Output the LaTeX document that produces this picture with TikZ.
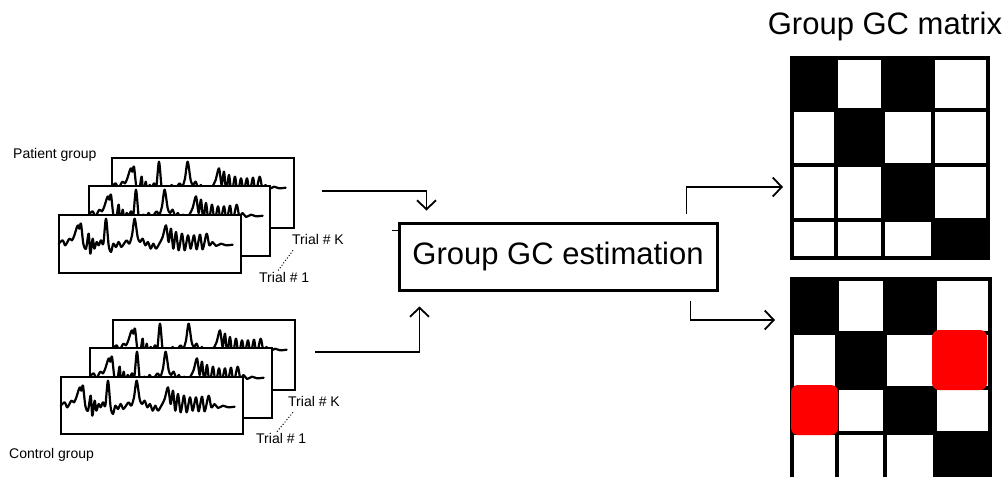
\documentclass[tikz,border=0pt]{standalone}
\usepackage{fontspec}
\setmainfont{Liberation Sans}
\usetikzlibrary{arrows.meta,calc}
\tikzset{
  trialbox/.style={draw, fill=white, line width=1.8pt, inner sep=0pt, anchor=north west},
  wavestyle/.style={line width=2.2pt, line join=round, line cap=round},
  conn/.style={line width=1.8pt, -{Straight Barb[length=9pt,width=19pt,line width=1.8pt]}},
  lbl/.style={font=\fontsize{14}{16}\selectfont, inner sep=0pt, anchor=west},
  big/.style={font=\fontsize{31}{36}\selectfont},
  gridline/.style={line width=4.5pt},
  dotline/.style={dotted, line width=1pt},
}
\newcommand{\drawwave}[1]{%
  \begin{scope}[shift={(#1)}, x=0.3333pt, y=-0.3333pt]
    \draw[wavestyle] plot[smooth, tension=0.5] coordinates {
      (2,89) (14,79) (22,94) (34,74) (42,79) (49,64) (59,34) (64,44) (69,29) (76,89)
      (84,104) (92,59) (97,119) (104,74) (109,104) (116,84) (122,94) (129,79) (136,89)
      (144,14) (152,94) (159,114) (166,89) (174,99) (182,84) (190,99) (198,89) (206,79)
      (214,89) (222,64) (230,14) (239,69) (246,84) (254,74) (262,94) (270,84) (278,104)
      (286,89) (294,104) (304,89) (314,69) (324,34) (332,84) (339,44) (346,104) (354,54)
      (362,109) (372,59) (380,109) (390,64) (398,104) (408,64) (416,106) (426,62)
      (434,106) (446,59) (454,94) (464,84) (474,96) (489,89) (504,94) (524,92)};
  \end{scope}}
\begin{document}
\begin{tikzpicture}[x=1pt, y=-1pt]
\useasboundingbox (0,0) rectangle (1005,477);

% ---------- Patient group trials ----------
\node[trialbox, minimum width=182pt, minimum height=70pt] (pb) at (111,157) {};
\drawwave{pb.north west}
\node[trialbox, minimum width=181pt, minimum height=70pt] (pm) at (88,185) {};
\drawwave{pm.north west}
\node[trialbox, minimum width=182pt, minimum height=58pt] (pf) at (58,214) {};
\drawwave{pf.north west}

\node[lbl] (pg) at (13,155) {Patient group};
\node[lbl] (pk) at (292,239) {Trial \# K};
\node[lbl] (p1) at (259,277) {Trial \# 1};
\draw[dotline] ($(pk.south west)+(1,6)$) -- ($(p1.north west)+(19,-1)$);

% ---------- Control group trials ----------
\node[trialbox, minimum width=182pt, minimum height=70pt] (cb) at (112,319) {};
\drawwave{cb.north west}
\node[trialbox, minimum width=182pt, minimum height=70pt] (cm) at (89,347) {};
\drawwave{cm.north west}
\node[trialbox, minimum width=182pt, minimum height=57pt] (cf) at (60,376) {};
\drawwave{cf.north west}

\node[lbl] (ck) at (288,401) {Trial \# K};
\node[lbl] (c1) at (256,438) {Trial \# 1};
\node[lbl] (cg) at (9,455) {Control group};
\draw[dotline] ($(ck.south west)+(5,6)$) -- ($(c1.north west)+(21,-1)$);

% ---------- Estimation box ----------
\node[draw, line width=3pt, minimum width=318pt, minimum height=67pt, inner sep=0pt, big] (est) at (558,256.5) {Group GC estimation};
\draw[line width=1pt] ($(est.north west)+(-6,9)$) -- ++(6,0);

% input connectors
\coordinate (pin) at (322,191);
\coordinate (cin) at (315,352);
\draw[conn] (pin) -| ($(est.north west)+(29,-11)$);
\draw[conn] (cin) -| ($(est.south west)+(22,15)$);

% ---------- Matrices ----------
\coordinate (mt) at (792,58);
\coordinate (mb) at (792,279);
\draw[conn] ($(est.north east)+(-32,-8)$) |- ($(mt)+(-9,129)$);
\draw[conn] ($(est.south east)+(-28,9)$) |- ($(mb)+(-17,41)$);

\node[big] (title) at (885,26) {Group GC matrix};

% top matrix
\fill (792,58) rectangle (836,110);
\fill (883,58) rectangle (933,110);
\fill (836,110) rectangle (883,165);
\fill (883,165) rectangle (933,220);
\fill (933,220) rectangle (988,258);
\draw[gridline] (792,58) rectangle (988,258);
\foreach \xx in {836,883,933} \draw[gridline] (\xx,58) -- (\xx,258);
\foreach \yy in {110,165,220} \draw[gridline] (792,\yy) -- (988,\yy);

% bottom matrix
\fill (792,279) rectangle (837,333);
\fill (885,279) rectangle (935,333);
\fill (837,333) rectangle (885,388);
\fill (885,388) rectangle (935,433);
\fill (935,433) rectangle (990,484);
\draw[gridline] (792,484) -- (792,279) -- (990,279) -- (990,484);
\foreach \xx in {837,885,935} \draw[gridline] (\xx,279) -- (\xx,484);
\foreach \yy in {333,388,433} \draw[gridline] (792,\yy) -- (990,\yy);
\fill[red, rounded corners=7pt] (932,330) rectangle (987,390);
\fill[red, rounded corners=7pt] (791,385) rectangle (838,435);
\end{tikzpicture}
\end{document}
